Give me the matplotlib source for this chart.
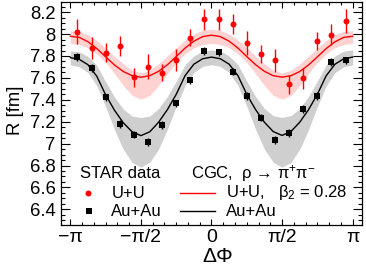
import numpy as np
import matplotlib
matplotlib.use('Agg')
import matplotlib.pyplot as plt
from matplotlib.lines import Line2D
from matplotlib.ticker import MultipleLocator, FixedLocator

plt.rcParams['font.family'] = ['Liberation Sans', 'DejaVu Sans']
plt.rcParams['mathtext.fontset'] = 'custom'
plt.rcParams['mathtext.rm'] = 'Liberation Sans'
plt.rcParams['mathtext.it'] = 'Liberation Sans:italic'
plt.rcParams['mathtext.bf'] = 'Liberation Sans:bold'

# ---- data ----
dphi = [-2.985, -2.670, -2.356, -2.042, -1.728, -1.414, -1.100, -0.785, -0.471, -0.157,
        0.157, 0.471, 0.785, 1.100, 1.414, 1.728, 2.042, 2.356, 2.670, 2.985]

uu_R = [8.022, 7.870, 7.830, 7.894, 7.605, 7.702, 7.648, 7.763, 7.967, 8.135,
        8.135, 8.095, 7.916, 7.815, 7.760, 7.544, 7.596, 7.937, 7.995, 8.122]
uu_err = [0.114, 0.099, 0.087, 0.091, 0.087, 0.113, 0.079, 0.097, 0.075, 0.094,
          0.094, 0.093, 0.110, 0.082, 0.103, 0.087, 0.096, 0.085, 0.099, 0.108]

auau_R = [7.794, 7.688, 7.423, 7.179, 7.081, 7.012, 7.167, 7.368, 7.578, 7.848,
          7.834, 7.654, 7.437, 7.237, 7.033, 7.100, 7.319, 7.435, 7.748, 7.760]
auau_err = [0.036, 0.035, 0.032, 0.036, 0.032, 0.036, 0.035, 0.032, 0.032, 0.036,
            0.032, 0.032, 0.035, 0.032, 0.036, 0.035, 0.035, 0.035, 0.036, 0.032]

phi_curve = [-3.142, -2.945, -2.749, -2.553, -2.356, -2.160, -1.963, -1.767, -1.571,
             -1.374, -1.178, -0.982, -0.785, -0.589, -0.393, -0.196, 0.000,
             0.196, 0.393, 0.589, 0.785, 0.982, 1.178, 1.374, 1.571,
             1.767, 1.963, 2.160, 2.356, 2.553, 2.749, 2.945, 3.142]

cgc_uu = [7.980, 7.970, 7.930, 7.868, 7.792, 7.718, 7.658, 7.620, 7.606,
          7.620, 7.660, 7.720, 7.795, 7.872, 7.935, 7.977, 7.990,
          7.977, 7.935, 7.872, 7.795, 7.720, 7.660, 7.620, 7.607,
          7.620, 7.658, 7.718, 7.792, 7.868, 7.930, 7.970, 7.980]
cgc_uu_hi = [8.030, 8.025, 7.995, 7.940, 7.872, 7.798, 7.728, 7.670, 7.645,
             7.670, 7.730, 7.800, 7.875, 7.945, 8.000, 8.035, 8.045,
             8.035, 8.000, 7.945, 7.875, 7.800, 7.730, 7.670, 7.645,
             7.670, 7.728, 7.798, 7.872, 7.940, 7.995, 8.025, 8.030]
cgc_uu_lo = [7.915, 7.905, 7.875, 7.820, 7.740, 7.640, 7.530, 7.440, 7.405,
             7.440, 7.530, 7.640, 7.740, 7.820, 7.875, 7.905, 7.915,
             7.905, 7.875, 7.820, 7.740, 7.640, 7.530, 7.440, 7.405,
             7.440, 7.530, 7.640, 7.740, 7.820, 7.875, 7.905, 7.915]

cgc_au = [7.785, 7.770, 7.720, 7.615, 7.445, 7.305, 7.190, 7.108, 7.073,
          7.108, 7.195, 7.310, 7.450, 7.620, 7.725, 7.775, 7.790,
          7.775, 7.725, 7.620, 7.450, 7.310, 7.195, 7.110, 7.075,
          7.110, 7.195, 7.310, 7.450, 7.620, 7.725, 7.775, 7.790]
cgc_au_hi = [7.845, 7.838, 7.795, 7.715, 7.565, 7.425, 7.315, 7.252, 7.238,
             7.252, 7.320, 7.430, 7.570, 7.720, 7.800, 7.845, 7.855,
             7.845, 7.800, 7.720, 7.570, 7.430, 7.320, 7.255, 7.240,
             7.255, 7.320, 7.430, 7.570, 7.720, 7.800, 7.845, 7.855]
cgc_au_lo = [7.718, 7.703, 7.648, 7.528, 7.338, 7.128, 6.948, 6.828, 6.785,
             6.830, 6.950, 7.130, 7.340, 7.530, 7.650, 7.705, 7.720,
             7.705, 7.650, 7.530, 7.340, 7.130, 6.950, 6.830, 6.785,
             6.828, 6.948, 7.128, 7.338, 7.528, 7.648, 7.703, 7.718]

xtick_pos = [-np.pi, -np.pi / 2, 0, np.pi / 2, np.pi]
xtick_lab = ['\u2212\u03c0', '\u2212\u03c0/2', '0', '\u03c0/2', '\u03c0']

RED = '#ff0000'
PINK = '#ffd2d2'
GRAY = '#cfcfcf'

W, H = 366, 275
fig = plt.figure(figsize=(W / 100, H / 100), dpi=100)
ax = fig.add_axes([61 / W, 1 - 225 / H, (362 - 61) / W, (225 - 2) / H])

ax.fill_between(phi_curve, cgc_uu_lo, cgc_uu_hi, color=PINK, lw=0, zorder=1)
ax.fill_between(phi_curve, cgc_au_lo, cgc_au_hi, color=GRAY, lw=0, zorder=1)
ax.plot(phi_curve, cgc_uu, color=RED, lw=1.0, zorder=2)
ax.plot(phi_curve, cgc_au, color='black', lw=1.0, zorder=2)

ax.errorbar(dphi, uu_R, yerr=uu_err, fmt='o', color=RED, ms=4.3, mew=0,
            elinewidth=1.0, capsize=1.6, capthick=1.0, zorder=3)
ax.errorbar(dphi, auau_R, yerr=auau_err, fmt='s', color='black', ms=3.8, mew=0,
            elinewidth=1.0, capsize=1.5, capthick=1.0, zorder=3)

ax.set_xlim(-3.35, 3.35)
ax.set_ylim(6.257, 8.293)

ax.xaxis.set_major_locator(FixedLocator(xtick_pos))
ax.set_xticklabels(xtick_lab)
ax.xaxis.set_minor_locator(MultipleLocator(np.pi / 12))
ax.yaxis.set_major_locator(MultipleLocator(0.2))
ax.yaxis.set_minor_locator(MultipleLocator(0.05))
ax.yaxis.set_major_formatter(matplotlib.ticker.FuncFormatter(lambda v, p: ('%.1f' % v).rstrip('0').rstrip('.')))

ax.tick_params(axis='both', which='both', direction='in', top=True, right=True, width=0.8)
ax.tick_params(axis='y', which='major', length=6.5, labelsize=13.3, pad=4)
ax.tick_params(axis='y', which='minor', length=3)
ax.tick_params(axis='x', which='major', length=4, labelsize=14, pad=3)
ax.tick_params(axis='x', which='minor', length=2)
for s in ax.spines.values():
    s.set_linewidth(0.9)

fig.text(16 / W, 1 - 110 / H, 'R [fm]', rotation=90, ha='center', va='center', fontsize=13.3)
fig.text(218 / W, 1 - 257 / H, '\u0394\u03a6', ha='center', va='center', fontsize=15)

# legends
fs = 12
fig.text(80 / W, 1 - 173 / H, 'STAR data', ha='left', va='center', fontsize=fs)
fig.add_artist(Line2D([88 / W], [1 - 193 / H], marker='o', color=RED, ms=4.3, mew=0, ls='none'))
fig.text(112 / W, 1 - 193 / H, 'U+U', ha='left', va='center', fontsize=fs)
fig.add_artist(Line2D([89 / W], [1 - 211 / H], marker='s', color='black', ms=3.8, mew=0, ls='none'))
fig.text(111 / W, 1 - 211 / H, 'Au+Au', ha='left', va='center', fontsize=fs)

fig.text(191 / W, 1 - 173 / H, 'CGC,  \u03c1 \u2192 \u03c0$^{+}$\u03c0$^{-}$', ha='left', va='center', fontsize=fs)
fig.add_artist(Line2D([180 / W, 215 / W], [1 - 193 / H] * 2, color=RED, lw=1.0))
fig.text(226 / W, 1 - 193 / H, 'U+U,   \u03b2$_{2}$ = 0.28', ha='left', va='center', fontsize=fs)
fig.add_artist(Line2D([180 / W, 215 / W], [1 - 211 / H] * 2, color='black', lw=1.0))
fig.text(226 / W, 1 - 211 / H, 'Au+Au', ha='left', va='center', fontsize=fs)

fig.savefig('out.png', dpi=100)
